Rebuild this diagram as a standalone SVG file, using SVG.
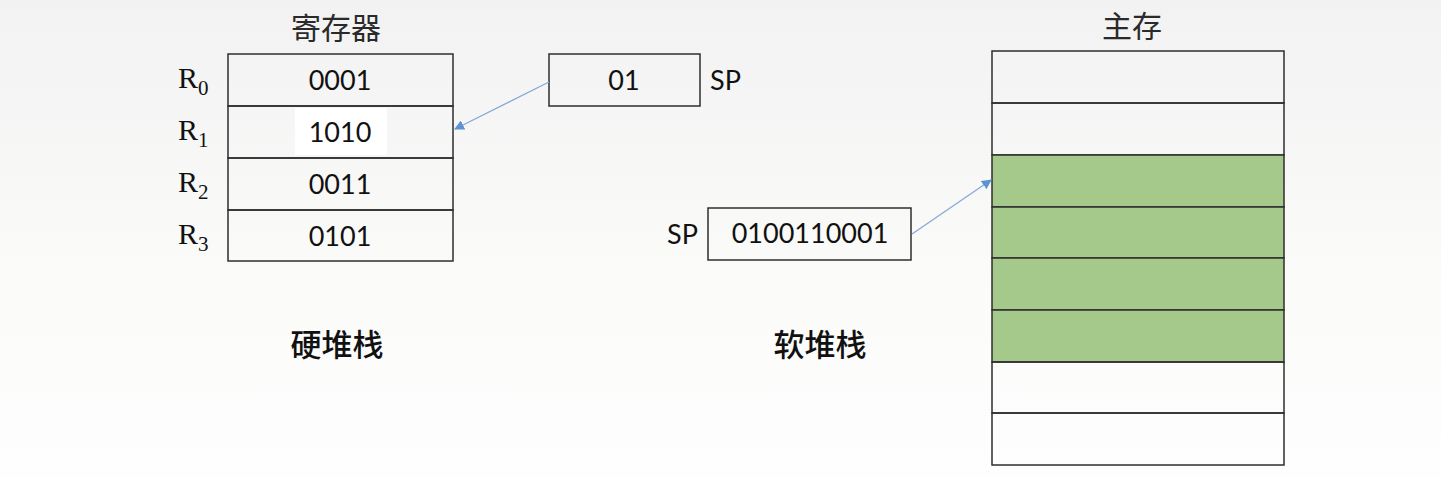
<svg xmlns="http://www.w3.org/2000/svg" width="1441" height="477" viewBox="0 0 1441 477">
<defs>
<linearGradient id="bg" x1="0" y1="0" x2="0" y2="1">
<stop offset="0" stop-color="#f2f2f2"/>
<stop offset="0.6" stop-color="#fbfbfa"/>
<stop offset="1" stop-color="#fefefe"/>
</linearGradient>
<marker id="ah" viewBox="0 0 10 10" refX="9" refY="5" markerWidth="10" markerHeight="10" markerUnits="userSpaceOnUse" orient="auto">
<path d="M0,0 L10,5 L0,10 z" fill="#5b93d3"/>
</marker>
<style>
.cell{fill:none;stroke:#2e2e2e;stroke-width:1.5}
.green{fill:#a5c98b;stroke:#2e2e2e;stroke-width:1.5}
.num{font-family:Lato,"Open Sans",sans-serif;font-size:27px;fill:#111;text-anchor:middle}
.sp{font-family:Lato,"Open Sans",sans-serif;font-size:27px;fill:#111}
.reg{font-family:"Liberation Serif",serif;font-size:30px;fill:#111}
.sub{font-size:21px}
.title{font-family:"Noto Sans CJK SC",sans-serif;font-size:30px;fill:#2a2a2a;text-anchor:middle;font-weight:400}
.cap{font-family:"Noto Sans CJK SC",sans-serif;font-size:31px;fill:#111;text-anchor:middle;font-weight:500}
.conn{stroke:#84aadb;stroke-width:1.3;fill:none}
</style>
</defs>
<rect width="1441" height="477" fill="url(#bg)"/>

<g id="registers">
<text class="title" x="336" y="39">寄存器</text>
<rect x="295" y="108" width="92" height="47" fill="#ffffff"/>
<rect class="cell" x="228" y="54" width="225" height="52"/>
<rect class="cell" x="228" y="106" width="225" height="52"/>
<rect class="cell" x="228" y="158" width="225" height="52"/>
<rect class="cell" x="228" y="210" width="225" height="51"/>
<text class="num" x="340" y="90">0001</text>
<text class="num" x="340" y="142">1010</text>
<text class="num" x="340" y="194">0011</text>
<text class="num" x="340" y="246">0101</text>
<text class="reg" x="178" y="88">R<tspan class="sub" dy="7">0</tspan></text>
<text class="reg" x="178" y="140">R<tspan class="sub" dy="7">1</tspan></text>
<text class="reg" x="178" y="192">R<tspan class="sub" dy="7">2</tspan></text>
<text class="reg" x="178" y="244">R<tspan class="sub" dy="7">3</tspan></text>
<text class="cap" x="337" y="356">硬堆栈</text>
</g>

<g id="hw-sp">
<rect class="cell" x="549" y="54" width="151" height="52"/>
<text class="num" x="624" y="90">01</text>
<text class="sp" x="710" y="90">SP</text>
</g>

<g id="sw-sp">
<text class="sp" x="667" y="244">SP</text>
<rect class="cell" x="708" y="208" width="203" height="52"/>
<text class="num" x="810" y="243">0100110001</text>
<text class="cap" x="820" y="356">软堆栈</text>
</g>

<g id="memory">
<text class="title" x="1132" y="37">主存</text>
<rect class="cell" x="992" y="51" width="292" height="52"/>
<rect class="cell" x="992" y="103" width="292" height="52"/>
<rect class="green" x="992" y="155" width="292" height="52"/>
<rect class="green" x="992" y="207" width="292" height="51"/>
<rect class="green" x="992" y="258" width="292" height="52"/>
<rect class="green" x="992" y="310" width="292" height="52"/>
<rect class="cell" x="992" y="362" width="292" height="51"/>
<rect class="cell" x="992" y="413" width="292" height="52"/>
</g>

<g id="connectors">
<line class="conn" x1="549" y1="82" x2="455" y2="129" marker-end="url(#ah)"/>
<line class="conn" x1="912" y1="234" x2="991" y2="180" marker-end="url(#ah)"/>
</g>
</svg>
